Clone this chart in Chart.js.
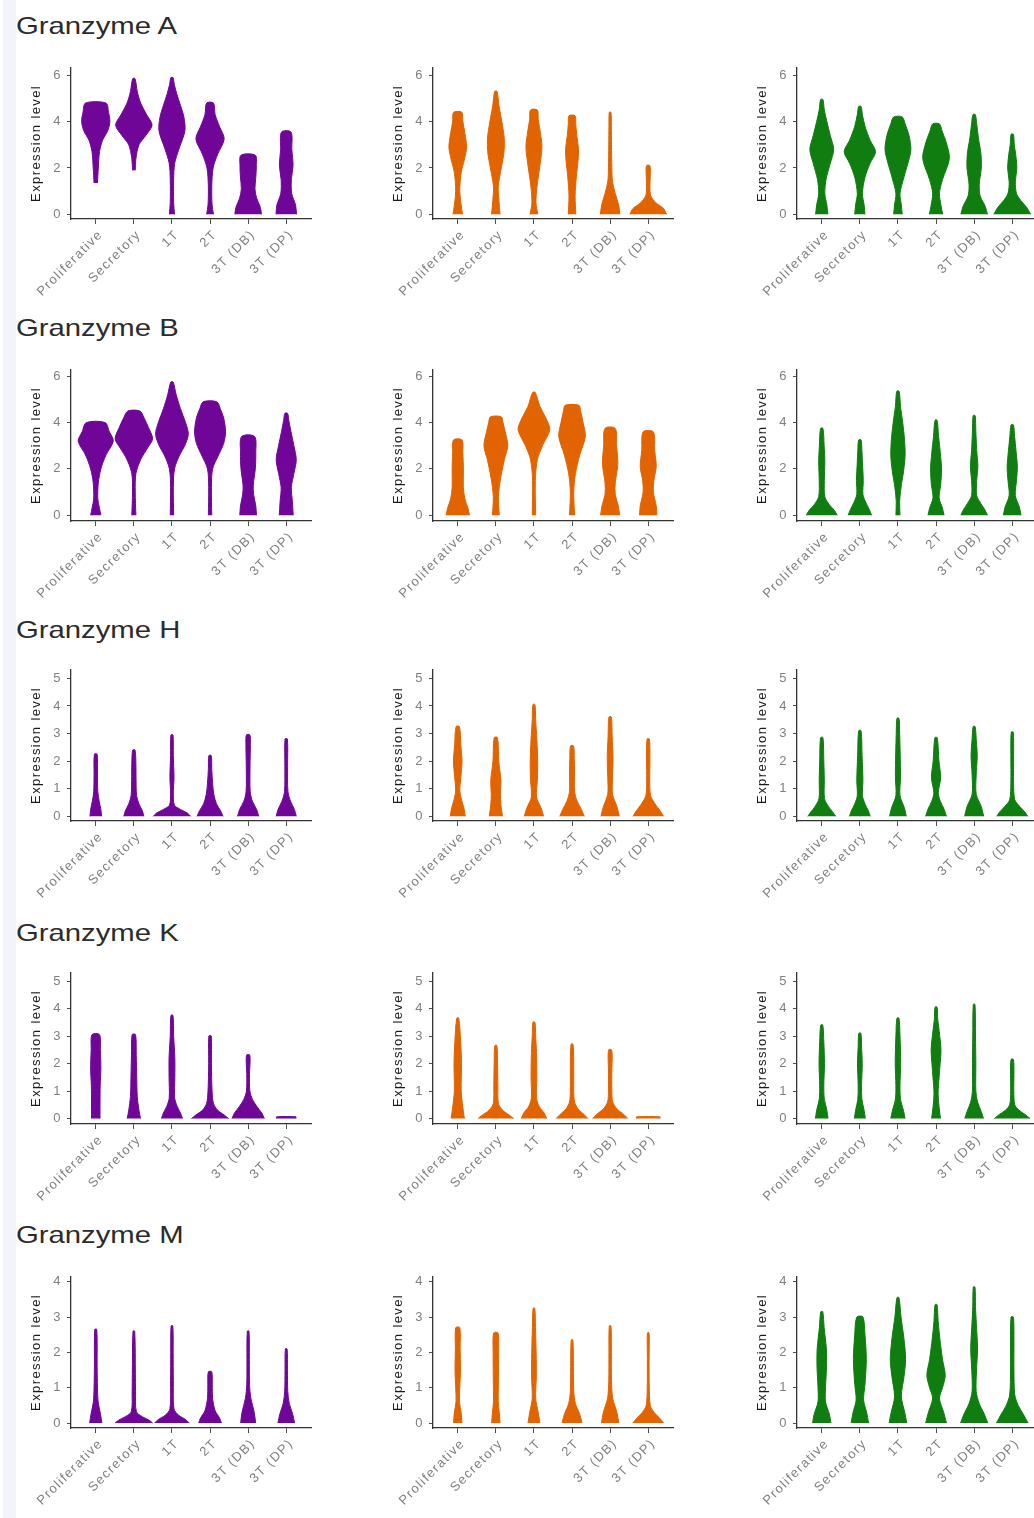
<!DOCTYPE html>
<html>
<head>
<meta charset="utf-8">
<script src="https://cdn.jsdelivr.net/npm/chart.js@4.4.1/dist/chart.umd.min.js"></script>
<style>
  body { margin: 0; background: #fff; width: 1034px; height: 1518px; position: relative; overflow: hidden; font-family: 'Liberation Sans', Arial, sans-serif; }
  #strip { position: absolute; left: 3px; top: 0; width: 13px; height: 1518px; background: #f2f4fa; }
  .gene { position: absolute; left: 16px; font-size: 24px; line-height: 24px; color: #2b2b2b; transform: scaleX(1.22); transform-origin: 0 0; white-space: nowrap; }
  canvas { position: absolute; }
</style>
</head>
<body>
<div id="strip"></div>
<script>
'use strict';

// DATA
const categories = ['Proliferative', 'Secretory', '1T', '2T', '3T (DB)', '3T (DP)'];
const genes = ['Granzyme A', 'Granzyme B', 'Granzyme H', 'Granzyme K', 'Granzyme M'];
const yTicksA = [0, 2, 4, 6];
const yTicksB = [0, 2, 4, 6];
const yTicksH = [0, 1, 2, 3, 4, 5];
const yTicksK = [0, 1, 2, 3, 4, 5];
const yTicksM = [0, 1, 2, 3, 4];
const yMin = [-0.2, -0.25, -0.17, -0.2, -0.14];
const yMax = [6.32, 6.28, 5.31, 5.3, 4.14];

// violin outlines: [expression level, relative width] from bottom to top
const gzmAPurple = [
  [[1.35, 0.1], [2.0, 0.15], [2.7, 0.22], [3.2, 0.4], [3.6, 0.7], [4.0, 0.83], [4.4, 0.75], [4.8, 0.6]],
  [[1.9, 0.08], [2.4, 0.12], [3.0, 0.3], [3.4, 0.7], [3.85, 1.07], [4.3, 0.75], [4.8, 0.4], [5.3, 0.2], [5.85, 0.07]],
  [[0, 0.15], [0.5, 0.1], [1.5, 0.1], [2.2, 0.16], [2.8, 0.4], [3.6, 0.76], [4.2, 0.7], [4.7, 0.5], [5.2, 0.28], [5.6, 0.14], [5.9, 0.06]],
  [[0, 0.2], [0.4, 0.12], [1.2, 0.1], [2.0, 0.18], [2.6, 0.45], [3.25, 0.83], [3.8, 0.55], [4.3, 0.3], [4.8, 0.2]],
  [[0, 0.78], [0.3, 0.72], [0.7, 0.5], [1.1, 0.4], [1.6, 0.45], [2.1, 0.48], [2.55, 0.42]],
  [[0, 0.6], [0.4, 0.55], [0.9, 0.32], [1.5, 0.3], [2.1, 0.4], [2.8, 0.33], [3.55, 0.28]]
];
const gzmAOrange = [
  [[0, 0.28], [0.4, 0.2], [1.0, 0.12], [1.8, 0.2], [2.4, 0.4], [2.9, 0.52], [3.5, 0.42], [4.0, 0.3], [4.4, 0.24]],
  [[0, 0.25], [0.6, 0.18], [1.2, 0.14], [2.0, 0.32], [2.7, 0.48], [3.3, 0.49], [4.0, 0.35], [4.7, 0.18], [5.3, 0.07]],
  [[0, 0.23], [0.5, 0.12], [1.2, 0.18], [2.0, 0.33], [2.9, 0.47], [3.6, 0.36], [4.1, 0.25], [4.5, 0.2]],
  [[0, 0.22], [0.8, 0.18], [1.6, 0.25], [2.3, 0.35], [2.8, 0.38], [3.4, 0.28], [3.9, 0.22], [4.25, 0.18]],
  [[0, 0.57], [0.4, 0.5], [0.9, 0.3], [1.4, 0.14], [2.0, 0.1], [3.0, 0.08], [3.8, 0.07], [4.4, 0.05]],
  [[0, 1.08], [0.25, 0.9], [0.5, 0.45], [0.8, 0.15], [1.2, 0.1], [1.7, 0.12], [2.1, 0.1]]
];
const gzmAGreen = [
  [[0, 0.36], [0.4, 0.3], [0.9, 0.18], [1.5, 0.25], [2.2, 0.5], [2.8, 0.7], [3.4, 0.5], [4.0, 0.3], [4.5, 0.15], [4.95, 0.07]],
  [[0, 0.3], [0.4, 0.25], [0.9, 0.15], [1.6, 0.3], [2.2, 0.6], [2.7, 0.92], [3.2, 0.6], [3.8, 0.3], [4.3, 0.15], [4.65, 0.07]],
  [[0, 0.25], [0.4, 0.2], [0.9, 0.12], [1.6, 0.35], [2.3, 0.62], [2.8, 0.76], [3.4, 0.65], [3.9, 0.42], [4.2, 0.25]],
  [[0, 0.39], [0.35, 0.3], [0.9, 0.2], [1.5, 0.38], [2.4, 0.78], [3.1, 0.6], [3.6, 0.35], [3.9, 0.2]],
  [[0, 0.78], [0.35, 0.65], [0.8, 0.35], [1.3, 0.3], [2.0, 0.42], [2.6, 0.4], [3.3, 0.25], [3.9, 0.15], [4.3, 0.07]],
  [[0, 1.08], [0.3, 0.85], [0.6, 0.5], [0.9, 0.25], [1.4, 0.18], [2.0, 0.27], [2.6, 0.2], [3.0, 0.12], [3.45, 0.07]]
];

const gzmBPurple = [
  [[0, 0.3], [0.3, 0.22], [0.7, 0.12], [1.4, 0.15], [2.0, 0.3], [2.6, 0.6], [3.2, 1.03], [3.6, 0.8], [4.0, 0.55]],
  [[0, 0.12], [1.0, 0.08], [1.8, 0.12], [2.4, 0.4], [2.9, 0.8], [3.3, 1.1], [3.8, 0.85], [4.2, 0.6], [4.5, 0.35]],
  [[0, 0.1], [1.2, 0.08], [2.0, 0.15], [2.6, 0.45], [3.0, 0.75], [3.5, 0.96], [4.0, 0.8], [4.6, 0.5], [5.2, 0.25], [5.75, 0.07]],
  [[0, 0.1], [1.2, 0.08], [2.0, 0.15], [2.6, 0.5], [3.1, 0.8], [3.6, 0.91], [4.2, 0.8], [4.6, 0.6], [4.9, 0.4]],
  [[0, 0.49], [0.4, 0.45], [0.9, 0.32], [1.3, 0.3], [2.0, 0.42], [2.7, 0.45], [3.4, 0.38]],
  [[0, 0.41], [0.6, 0.36], [1.2, 0.3], [1.8, 0.45], [2.4, 0.59], [3.0, 0.45], [3.6, 0.28], [4.1, 0.15], [4.4, 0.08]]
];
const gzmBOrange = [
  [[0, 0.69], [0.3, 0.6], [0.7, 0.42], [1.2, 0.33], [2.0, 0.33], [2.7, 0.3], [3.25, 0.25]],
  [[0, 0.2], [0.8, 0.15], [1.6, 0.28], [2.4, 0.5], [3.0, 0.7], [3.6, 0.55], [4.0, 0.42], [4.25, 0.32]],
  [[0, 0.1], [1.5, 0.08], [2.4, 0.2], [3.0, 0.5], [3.7, 0.93], [4.2, 0.7], [4.7, 0.35], [5.3, 0.08]],
  [[0, 0.15], [1.0, 0.1], [1.8, 0.2], [2.6, 0.45], [3.4, 0.78], [4.0, 0.65], [4.5, 0.5], [4.75, 0.4]],
  [[0, 0.56], [0.4, 0.48], [0.9, 0.3], [1.4, 0.3], [2.2, 0.45], [3.0, 0.38], [3.75, 0.3]],
  [[0, 0.51], [0.4, 0.47], [1.0, 0.3], [1.5, 0.33], [2.1, 0.47], [2.8, 0.38], [3.6, 0.3]]
];
const gzmBGreen = [
  [[0, 0.91], [0.2, 0.75], [0.45, 0.45], [0.8, 0.18], [1.5, 0.15], [2.3, 0.18], [3.0, 0.14], [3.75, 0.07]],
  [[0, 0.69], [0.25, 0.55], [0.55, 0.35], [0.9, 0.18], [1.5, 0.2], [2.3, 0.15], [2.8, 0.12], [3.25, 0.07]],
  [[0, 0.12], [0.6, 0.1], [1.2, 0.18], [1.9, 0.33], [2.6, 0.42], [3.3, 0.38], [4.0, 0.28], [4.7, 0.15], [5.35, 0.07]],
  [[0, 0.47], [0.3, 0.38], [0.75, 0.18], [1.3, 0.27], [2.0, 0.32], [2.7, 0.25], [3.4, 0.15], [4.1, 0.06]],
  [[0, 0.78], [0.25, 0.62], [0.5, 0.4], [0.85, 0.15], [1.5, 0.15], [2.1, 0.22], [2.8, 0.15], [3.6, 0.1], [4.3, 0.06]],
  [[0, 0.52], [0.35, 0.42], [0.85, 0.18], [1.5, 0.25], [2.1, 0.3], [2.8, 0.22], [3.4, 0.14], [3.9, 0.07]]
];

const gzmHPurple = [
  [[0, 0.34], [0.25, 0.3], [0.55, 0.2], [0.9, 0.12], [1.5, 0.1], [2.25, 0.08]],
  [[0, 0.59], [0.2, 0.5], [0.45, 0.3], [0.75, 0.16], [1.3, 0.13], [1.9, 0.12], [2.4, 0.07]],
  [[0, 1.1], [0.12, 0.9], [0.25, 0.5], [0.4, 0.15], [0.8, 0.08], [1.4, 0.12], [2.2, 0.08], [2.95, 0.06]],
  [[0, 0.76], [0.2, 0.62], [0.45, 0.38], [0.8, 0.22], [1.2, 0.15], [1.7, 0.1], [2.2, 0.07]],
  [[0, 0.62], [0.25, 0.5], [0.55, 0.25], [0.9, 0.12], [1.8, 0.11], [2.6, 0.13], [2.95, 0.1]],
  [[0, 0.59], [0.25, 0.48], [0.55, 0.25], [0.9, 0.1], [1.8, 0.08], [2.8, 0.07]]
];
const gzmHOrange = [
  [[0, 0.44], [0.3, 0.36], [0.65, 0.2], [0.95, 0.12], [1.4, 0.18], [2.0, 0.25], [2.6, 0.18], [3.25, 0.1]],
  [[0, 0.39], [0.4, 0.3], [0.8, 0.27], [1.3, 0.3], [2.0, 0.17], [2.85, 0.1]],
  [[0, 0.57], [0.3, 0.42], [0.7, 0.15], [1.3, 0.2], [2.0, 0.22], [2.8, 0.17], [3.5, 0.1], [4.05, 0.06]],
  [[0, 0.72], [0.25, 0.55], [0.55, 0.3], [0.9, 0.15], [1.6, 0.15], [2.1, 0.13], [2.55, 0.09]],
  [[0, 0.54], [0.35, 0.4], [0.8, 0.14], [1.4, 0.14], [2.1, 0.17], [2.9, 0.12], [3.6, 0.07]],
  [[0, 0.9], [0.2, 0.7], [0.45, 0.4], [0.75, 0.14], [1.3, 0.09], [2.0, 0.1], [2.8, 0.07]]
];
const gzmHGreen = [
  [[0, 0.82], [0.15, 0.65], [0.35, 0.4], [0.65, 0.16], [1.3, 0.15], [2.0, 0.12], [2.85, 0.07]],
  [[0, 0.61], [0.2, 0.5], [0.45, 0.3], [0.75, 0.15], [1.3, 0.18], [2.2, 0.13], [3.1, 0.07]],
  [[0, 0.49], [0.3, 0.38], [0.75, 0.12], [1.4, 0.15], [2.3, 0.13], [3.0, 0.1], [3.55, 0.06]],
  [[0, 0.61], [0.25, 0.48], [0.55, 0.25], [0.85, 0.13], [1.4, 0.27], [2.0, 0.17], [2.85, 0.07]],
  [[0, 0.56], [0.35, 0.42], [0.8, 0.12], [1.5, 0.12], [2.2, 0.18], [2.8, 0.12], [3.25, 0.06]],
  [[0, 0.91], [0.15, 0.75], [0.35, 0.45], [0.6, 0.15], [1.2, 0.08], [2.2, 0.08], [3.05, 0.06]]
];

const gzmKPurple = [
  [[0, 0.25], [0.6, 0.25], [1.2, 0.26], [1.8, 0.3], [2.5, 0.27], [3.05, 0.22]],
  [[0, 0.39], [0.3, 0.3], [0.8, 0.2], [1.5, 0.17], [2.3, 0.14], [3.05, 0.1]],
  [[0, 0.62], [0.2, 0.5], [0.45, 0.3], [0.75, 0.16], [1.5, 0.17], [2.2, 0.17], [3.0, 0.1], [3.75, 0.06]],
  [[0, 1.09], [0.12, 0.85], [0.3, 0.45], [0.55, 0.2], [1.0, 0.12], [2.0, 0.08], [3.0, 0.07]],
  [[0, 0.95], [0.2, 0.8], [0.45, 0.5], [0.7, 0.25], [1.0, 0.1], [1.6, 0.08], [2.3, 0.1]],
  [[0, 0.57], [0.06, 0.57]]
];
const gzmKOrange = [
  [[0, 0.39], [0.4, 0.3], [1.0, 0.2], [2.0, 0.22], [2.8, 0.17], [3.65, 0.06]],
  [[0, 1.05], [0.12, 0.8], [0.3, 0.4], [0.55, 0.15], [1.2, 0.12], [2.0, 0.1], [2.65, 0.06]],
  [[0, 0.75], [0.2, 0.6], [0.45, 0.3], [0.75, 0.15], [1.5, 0.17], [2.4, 0.15], [3.0, 0.1], [3.5, 0.06]],
  [[0, 0.93], [0.15, 0.7], [0.35, 0.35], [0.6, 0.15], [1.0, 0.1], [1.8, 0.1], [2.7, 0.06]],
  [[0, 1.03], [0.15, 0.8], [0.35, 0.4], [0.6, 0.15], [1.0, 0.1], [1.8, 0.1], [2.2, 0.12], [2.5, 0.08]],
  [[0, 0.69], [0.06, 0.69]]
];
const gzmKGreen = [
  [[0, 0.37], [0.3, 0.3], [0.7, 0.15], [1.2, 0.12], [2.0, 0.16], [2.8, 0.12], [3.4, 0.06]],
  [[0, 0.32], [0.3, 0.25], [0.7, 0.12], [1.2, 0.1], [2.0, 0.14], [2.6, 0.1], [3.1, 0.06]],
  [[0, 0.42], [0.3, 0.32], [0.7, 0.15], [1.2, 0.12], [2.0, 0.16], [3.0, 0.12], [3.65, 0.06]],
  [[0, 0.26], [0.4, 0.18], [0.9, 0.12], [1.5, 0.18], [2.0, 0.24], [2.5, 0.29], [3.2, 0.18], [3.6, 0.1], [4.05, 0.06]],
  [[0, 0.55], [0.25, 0.42], [0.6, 0.2], [1.0, 0.1], [2.0, 0.1], [3.0, 0.08], [4.15, 0.05]],
  [[0, 1.05], [0.15, 0.75], [0.3, 0.4], [0.5, 0.15], [1.0, 0.09], [1.6, 0.1], [2.15, 0.07]]
];

const gzmMPurple = [
  [[0, 0.36], [0.25, 0.28], [0.6, 0.14], [1.0, 0.1], [1.6, 0.08], [2.65, 0.06]],
  [[0, 1.1], [0.08, 0.9], [0.18, 0.5], [0.32, 0.15], [0.9, 0.1], [1.4, 0.09], [2.6, 0.05]],
  [[0, 1.02], [0.1, 0.8], [0.22, 0.4], [0.4, 0.12], [1.2, 0.08], [2.0, 0.07], [2.75, 0.05]],
  [[0, 0.67], [0.15, 0.55], [0.35, 0.3], [0.7, 0.15], [1.1, 0.13], [1.45, 0.1]],
  [[0, 0.44], [0.3, 0.36], [0.7, 0.16], [1.1, 0.08], [1.8, 0.07], [2.6, 0.05]],
  [[0, 0.49], [0.25, 0.38], [0.55, 0.18], [0.9, 0.09], [1.5, 0.07], [2.1, 0.05]]
];
const gzmMOrange = [
  [[0, 0.25], [0.3, 0.2], [0.6, 0.1], [1.0, 0.12], [1.5, 0.16], [2.1, 0.14], [2.7, 0.12]],
  [[0, 0.25], [0.3, 0.2], [0.6, 0.14], [1.2, 0.15], [2.0, 0.16], [2.55, 0.13]],
  [[0, 0.35], [0.3, 0.25], [0.7, 0.1], [1.3, 0.14], [2.0, 0.13], [2.7, 0.09], [3.25, 0.05]],
  [[0, 0.59], [0.25, 0.45], [0.55, 0.2], [0.9, 0.1], [1.6, 0.08], [2.35, 0.05]],
  [[0, 0.51], [0.3, 0.4], [0.7, 0.15], [1.2, 0.08], [2.0, 0.07], [2.75, 0.05]],
  [[0, 0.91], [0.15, 0.65], [0.3, 0.35], [0.5, 0.12], [1.0, 0.06], [1.8, 0.05], [2.55, 0.05]]
];
const gzmMGreen = [
  [[0, 0.54], [0.25, 0.45], [0.6, 0.22], [1.0, 0.22], [1.6, 0.28], [2.1, 0.27], [2.7, 0.14], [3.15, 0.06]],
  [[0, 0.51], [0.3, 0.4], [0.65, 0.22], [1.1, 0.3], [1.8, 0.38], [2.5, 0.3], [3.0, 0.18]],
  [[0, 0.52], [0.3, 0.4], [0.75, 0.2], [1.3, 0.35], [1.8, 0.45], [2.4, 0.35], [3.0, 0.18], [3.55, 0.06]],
  [[0, 0.61], [0.3, 0.45], [0.7, 0.2], [1.0, 0.38], [1.35, 0.54], [1.8, 0.38], [2.4, 0.22], [2.9, 0.12], [3.35, 0.06]],
  [[0, 0.8], [0.25, 0.6], [0.55, 0.3], [0.9, 0.12], [1.5, 0.14], [2.1, 0.2], [2.8, 0.13], [3.3, 0.08], [3.85, 0.05]],
  [[0, 0.93], [0.25, 0.65], [0.5, 0.35], [0.8, 0.15], [1.5, 0.1], [2.3, 0.1], [3.0, 0.07]]
];

// PANEL LAYOUT
const panels = [
  [gzmAPurple, gzmAOrange, gzmAGreen],
  [gzmBPurple, gzmBOrange, gzmBGreen],
  [gzmHPurple, gzmHOrange, gzmHGreen],
  [gzmKPurple, gzmKOrange, gzmKGreen],
  [gzmMPurple, gzmMOrange, gzmMGreen]
];
const rowTicks = [yTicksA, yTicksB, yTicksH, yTicksK, yTicksM];
const colColors = ['#6f0698', '#e16400', '#0f7d0f'];
const axisLeft = [71, 433, 797];
const panelTop = [63, 365, 665, 968, 1272];
const halfWidth = 0.447;
const fontFamily = "'Liberation Sans', Arial, sans-serif";

// letter spacing for the axis text
let spacingPlugin = {
  id: 'spacing',
  beforeLayout(chart) { chart.ctx.letterSpacing = '1.4px'; },
  beforeDraw(chart) { chart.ctx.letterSpacing = '1.4px'; }
};

function violinPoints(knots, i){
  let right = knots.map(k => ({x: i + k[1] * halfWidth, y: k[0]}));
  let left = knots.slice().reverse().map(k => ({x: i - k[1] * halfWidth, y: k[0]}));
  return right.concat(left);
}

function makePanel(r, c){
  let canvas = document.createElement('canvas');
  canvas.width = 298;
  canvas.height = 259;
  canvas.style.left = (axisLeft[c] - 50) + 'px';
  canvas.style.top = (panelTop[r] - 8) + 'px';
  document.body.appendChild(canvas);

  let color = colColors[c];
  let datasets = panels[r][c].map((knots, i) => ({
    data: violinPoints(knots, i),
    borderColor: color,
    backgroundColor: color,
    borderWidth: 1,
    fill: 'shape',
    pointRadius: 0,
    tension: 0.3
  }));

  let tickFont = {family: fontFamily, size: 13};
  let yTicks = rowTicks[r];

  new Chart(canvas, {
    type: 'line',
    data: {datasets: datasets},
    plugins: [spacingPlugin],
    options: {
      responsive: false,
      devicePixelRatio: 1,
      animation: false,
      events: [],
      layout: {padding: {top: 8, right: 8, left: 0, bottom: 0}},
      plugins: {legend: {display: false}, tooltip: {enabled: false}},
      scales: {
        x: {
          type: 'linear',
          min: -0.65,
          max: 5.65,
          afterBuildTicks: axis => { axis.ticks = categories.map((name, i) => ({value: i})); },
          afterFit: scale => { scale.height = 95; },
          ticks: {
            autoSkip: false, minRotation: 45, maxRotation: 45, padding: 3, labelOffset: 5,
            color: '#7f7f7f', font: tickFont,
            callback: value => categories[value]
          },
          grid: {drawOnChartArea: false, drawTicks: true, tickLength: 5, color: '#4d4d4d'},
          border: {display: true, color: '#333', width: 1.3}
        },
        y: {
          min: yMin[r],
          max: yMax[r],
          afterBuildTicks: axis => { axis.ticks = yTicks.map(v => ({value: v})); },
          afterFit: scale => { scale.width = 50; },
          ticks: {padding: 5, color: '#7f7f7f', font: tickFont},
          grid: {drawOnChartArea: false, drawTicks: true, tickLength: 4, color: '#4d4d4d'},
          border: {display: true, color: '#333', width: 1.3},
          title: {
            display: true, text: 'Expression level', color: '#1a1a1a',
            font: {family: fontFamily, size: 13}, padding: {top: 8, bottom: 0}
          }
        }
      }
    }
  });
}

// ****** EXECUTABLE CODE ********
for(let r = 0; r < genes.length; r++){
  let title = document.createElement('div');
  title.className = 'gene';
  title.textContent = genes[r];
  title.style.top = (14 + 302.2 * r) + 'px';
  document.body.appendChild(title);
  for(let c = 0; c < 3; c++){
    makePanel(r, c);
  }
}
</script>
</body>
</html>
